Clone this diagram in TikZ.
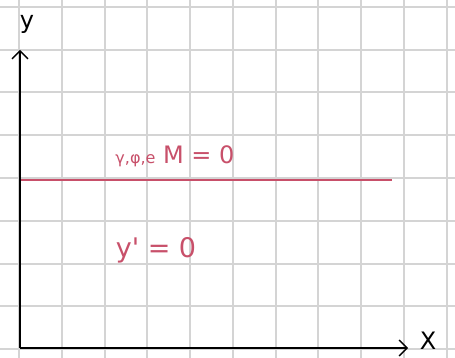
\documentclass[tikz,border=0pt]{standalone}
\usepackage{fontspec}
\setmainfont{DejaVu Sans}
\usetikzlibrary{arrows.meta}
\definecolor{gridgray}{HTML}{D4D4D4}
\definecolor{penred}{HTML}{C8506A}
\begin{document}
\begin{tikzpicture}[x=1pt,y=-1pt,
  gridline/.style={gridgray,line width=2pt},
  axis/.style={black,line width=1.6pt,-{Straight Barb[length=8pt,width=16pt,line width=1.4pt]}},
  redline/.style={penred,line width=1.5pt},
  redtext/.style={penred,inner sep=0pt},
  axlabel/.style={black,inner sep=0pt}]
\useasboundingbox (0,0) rectangle (455,358);
\fill[white] (0,0) rectangle (455,358);
\foreach \i in {0,...,10} {\draw[gridline] ({19+42.75*\i},0) -- ({19+42.75*\i},358);}
\foreach \j in {0,...,8} {\draw[gridline] (0,{7+42.75*\j}) -- (455,{7+42.75*\j});}
\coordinate (O) at (20,348);
\coordinate (ytop) at (20,50);
\coordinate (xend) at (408,348);
\draw[axis] (O) -- (ytop);
\draw[axis] (O) -- (xend);
\node[axlabel,font=\fontsize{24}{24}\selectfont] (ylab) at (27,24) {y};
\node[axlabel,font=\fontsize{24}{24}\selectfont] (xlab) at (428,341) {X};
\coordinate (r1) at (21,180);
\coordinate (r2) at (392,180);
\draw[redline] (r1) -- (r2);
\node[redtext,font=\fontsize{24}{24}\selectfont] (eq1) at (175,156) {{\fontsize{16}{16}\selectfont γ,φ,e} M = 0};
\node[redtext,font=\fontsize{27}{27}\selectfont] (eq2) at (156,250) {y\textquotesingle{} = 0};
\end{tikzpicture}
\end{document}
